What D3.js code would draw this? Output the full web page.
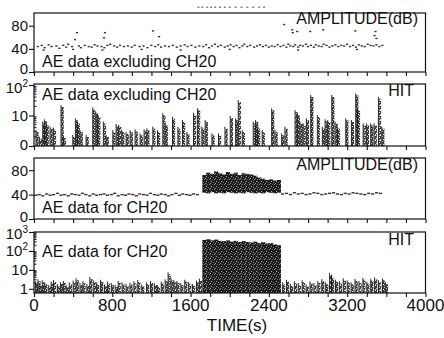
<!DOCTYPE html>
<html><head><meta charset="utf-8">
<script src="https://cdn.jsdelivr.net/npm/d3@7"></script>
<style>
body{margin:0;background:#fff}
svg{display:block}
text{font-family:"Liberation Sans",Arial,sans-serif;fill:#111}
</style>
</head><body>
<svg id="c" width="444" height="338"></svg>
<script>
// ---------------- DATA ----------------
const xTickLabels = [0, 800, 1600, 2400, 3200, 4000];
const ampTicks = [0, 40, 80];
const hitExclTicks = [1, 10, 100];
const hitExclTickLabels = ["0", "10", "10|2"];
const hitCh20Ticks = [1, 10, 100, 1000];
const hitCh20TickLabels = ["1", "10", "10|2", "10|3"];

// Panel 1: amplitude (dB), AE data excluding CH20  [time s, dB]
const ampExclPoints = [
  [40,44],[80,46],[110,42],[150,47],[180,44],[230,45],[260,41],[300,46],[330,43],[350,48],
  [390,44],[460,45],[480,42],[520,46],[560,44],[590,43],[620,47],[650,45],[690,44],[720,42],
  [750,46],[780,48],[820,45],[850,43],[880,46],[920,44],[960,45],[1000,43],[1030,46],[1080,44],
  [1120,45],[1160,42],[1200,46],[1240,44],[1270,47],[1300,43],[1340,45],[1380,44],[1420,46],[1460,43],
  [1500,45],[1540,47],[1570,44],[1610,46],[1650,43],[1690,45],
  [1730,44],[1760,47],[1790,42],[1820,45],[1850,48],[1880,44],[1910,46],[1950,43],[1980,45],[2010,47],
  [2040,44],[2070,46],[2100,42],[2130,45],[2150,48],[2180,44],[2210,46],[2250,43],[2280,45],[2310,47],
  [2340,44],[2370,46],[2400,43],[2430,45],[2460,44],[2490,47],
  [2520,44],[2550,46],[2580,43],[2600,48],[2620,45],[2650,44],[2670,47],[2700,43],[2720,46],[2750,45],
  [2780,48],[2800,44],[2830,46],[2860,43],[2880,47],[2910,45],[2940,44],[2960,48],[2990,46],[3020,43],
  [3050,45],[3080,47],[3110,44],[3140,46],[3170,45],[3200,48],[3230,44],[3260,46],[3290,43],[3320,47],
  [3350,45],[3380,44],[3410,48],[3440,46],[3470,45],[3500,47],[3530,44],[3560,46],
  [100,38],[400,39],[700,38],[1100,39],[1500,38],[2000,39],[2700,38],[3300,39],
  [420,56],[440,68],[716,59],[726,68],[1217,71],[1279,61],[2557,82],[2640,73],[2645,68],
  [2690,70],[2823,70],[2956,73],[3284,71],[3490,70],[3480,63],[3500,58]
];
// faint marks printed above the top frame
const ampExclTopMarks = [[1680,112],[1720,112],[1770,112],[1810,112],[1850,112],[1900,112],[1950,112],
  [2000,112],[2060,112],[2120,112],[2180,112],[2240,112],[2300,112],[2350,112]];

// Panel 2: hits, AE data excluding CH20  [time s, hits]
const hitExclBars = [
  [20,3.3],[55,2.0],[89,6.3],[106,7.5],[123,5.5],[164,4.3],[198,4.0],[276,22],[300,2.1],[396,2.3],
  [423,8.1],[443,6.3],[471,3.3],[532,2.3],[600,18.5],[631,13.4],[651,10.4],[709,6.3],[737,2.3],[805,3.3],
  [839,5.3],[866,4.9],[897,3.3],[941,2.9],[982,3.3],[1033,3.5],[1084,2.6],[1125,3.5],[1153,3.8],[1214,4.3],
  [1262,3.3],[1316,11.8],[1340,5.5],[1415,9.1],[1470,4.3],[1517,7.1],[1562,2.9],[1630,12.3],[1671,17.2],[1715,4.3],
  [1749,7.1],[1818,2.6],[1885,2.6],[1951,4.3],[2005,9.6],[2060,8.1],[2087,32],[2128,3.3],[2240,6.3],[2264,7.1],
  [2285,4.3],[2332,3.3],[2428,17.2],[2462,3.3],[2530,2.6],[2564,4.3],[2667,15],[2690,11.8],[2718,6.3],[2749,5.5],
  [2783,8.1],[2827,47],[2895,10.4],[2946,4.3],[2974,7.5],[3001,7.1],[3042,47],[3076,6.3],[3100,4.3],[3185,8.1],
  [3243,7.1],[3287,53],[3304,17],[3363,5.5],[3396,5.5],[3440,5.5],[3475,5.5],[3519,41],[3553,4.3]
];

// Panel 3: amplitude (dB), AE data for CH20  [time s, dB]
const ampCh20Points = [
  [20,39],[55,40],[90,38],[130,41],[165,39],[200,40],[240,42],[275,39],[310,40],[350,38],
  [385,41],[420,40],[460,39],[495,42],[530,40],[570,38],[605,41],[640,39],[680,40],[715,41],
  [750,39],[790,40],[825,42],[860,38],[900,40],[935,39],[970,41],[1010,40],[1045,38],[1080,41],
  [1120,40],[1155,39],[1190,42],[1230,40],[1265,39],[1300,41],[1340,40],[1375,38],[1410,40],[1450,42],
  [1485,39],[1520,41],[1560,40],[1595,39],[1630,41],[1670,40],
  [2540,41],[2580,42],[2620,40],[2660,43],[2700,41],[2740,42],[2780,40],[2820,41],[2860,43],[2900,42],
  [2940,40],[2980,41],[3020,42],[3060,43],[3100,41],[3140,40],[3180,42],[3220,41],[3260,43],[3300,42],
  [3340,41],[3380,40],[3420,42],[3460,41],[3500,43],[3540,42]
];
// dense burst 1720-2520 s: [bin start s, low dB, high dB]
const ampCh20Burst = [
  [1720,43,72],[1760,42,76],[1800,44,74],[1840,42,78],[1880,43,75],[1920,42,73],[1960,44,77],[2000,43,74],
  [2040,42,76],[2080,43,72],[2120,42,75],[2160,44,74],[2200,43,73],[2240,42,71],[2280,43,68],[2320,42,66],
  [2360,44,64],[2400,43,65],[2440,42,63],[2480,43,64]
];

// Panel 4: hits, AE data for CH20  [time s, hits]
const hitCh20Bars = [
  [15,2.5],[40,3.2],[60,1.8],[85,2.8],[110,2.2],[150,1.6],[175,2.4],[200,2.9],[240,1.7],[270,2.3],
  [300,2.6],[330,1.5],[360,2.2],[400,2.7],[430,3.6],[470,2.0],[500,2.5],[540,1.8],[570,4.2],[610,2.8],
  [640,2.1],[680,3.0],[720,1.7],[750,2.4],[790,2.0],[830,1.6],[860,2.6],[900,2.2],[940,1.8],[980,2.1],
  [1020,2.5],[1060,2.9],[1100,1.7],[1150,2.2],[1190,2.6],[1230,2.0],[1260,1.6],[1300,2.4],[1340,3.2],[1370,7.5],
  [1400,3.5],[1430,2.8],[1460,2.6],[1500,2.0],[1540,3.0],[1580,2.3],[1620,1.8],[1660,2.7],[1690,3.4],
  [2540,2.2],[2580,3.0],[2620,1.8],[2660,2.5],[2700,2.0],[2740,2.8],[2780,1.7],[2820,2.4],[2860,2.0],[2900,2.6],
  [2940,3.2],[2980,2.2],[3020,7.0],[3040,4.5],[3080,3.0],[3120,2.5],[3160,3.6],[3200,2.8],[3240,2.2],[3280,3.3],
  [3320,2.6],[3360,3.8],[3400,2.4],[3440,3.4],[3480,4.0],[3520,2.8],[3560,3.6],[3590,2.2]
];
// dense burst 1720-2520 s: [bin start s, hits]
const hitCh20Burst = [
  [1720,380],[1760,420],[1800,360],[1840,400],[1880,340],[1920,330],[1960,360],[2000,310],[2040,340],[2080,300],
  [2120,330],[2160,300],[2200,280],[2240,310],[2280,260],[2320,290],[2360,250],[2400,260],[2440,220],[2480,200]
];
const burstBin = 40;

// ---------------- LAYOUT ----------------
const svg = d3.select("#c");
const X0 = 34, X1 = 425.5;
const P = [
  {top:13, bottom:72},
  {top:84, bottom:146},
  {top:158, bottom:219},
  {top:232, bottom:293}
];
const x = d3.scaleLinear().domain([0,4000]).range([X0,X1]);
const y1 = d3.scaleLinear().domain([0,102]).range([P[0].bottom, P[0].top]);
const y2 = d3.scaleLog().domain([1,100]).range([P[1].bottom, P[1].top+1]);
const y3 = d3.scaleLinear().domain([0,100]).range([P[2].bottom, P[2].top]);
const y4 = d3.scaleLog().domain([0.6,1000]).range([P[3].bottom, P[3].top]);

// patterns (speckled fills like the printed figure)
const defs = svg.append("defs");
function speckle(id, size, bg, dots){
  const p = defs.append("pattern").attr("id", id).attr("width", size).attr("height", size)
    .attr("patternUnits", "userSpaceOnUse");
  p.append("rect").attr("width", size).attr("height", size).attr("fill", bg);
  dots.forEach(([dx, dy, c]) => p.append("rect").attr("x", dx).attr("y", dy)
    .attr("width", 1).attr("height", 1).attr("fill", c));
}
speckle("stip", 5, "#3c3c3c", [[0,0,"#eee"],[2,1,"#ddd"],[4,2,"#eee"],[1,3,"#ccc"],[3,4,"#eee"],[4,0,"#bbb"],[0,4,"#ccc"]]);
speckle("dense", 5, "#1a1a1a", [[1,1,"#aaa"],[3,2,"#777"],[0,3,"#999"],[4,4,"#888"],[2,4,"#666"]]);

const g = svg.append("g");

// ---------- marks ----------
g.append("g").selectAll("rect").data(ampExclPoints).join("rect")
  .attr("x", d => x(d[0]) - 1.2).attr("y", d => y1(d[1]) - 0.7)
  .attr("width", 2.2).attr("height", 1.4).attr("fill", "#333");
g.append("g").selectAll("rect").data(ampExclTopMarks).join("rect")
  .attr("x", d => x(d[0]) - 1).attr("y", d => y1(d[1]) - 0.6)
  .attr("width", 2).attr("height", 1.2).attr("fill", "#666");

function bars(sel, data, ys, base){
  const gg = sel.append("g");
  gg.selectAll("rect").data(data).join("rect")
    .attr("x", d => x(d[0]) + 0.3).attr("y", d => ys(d[1]) + 2)
    .attr("width", 2.4).attr("height", d => Math.max(0, base - ys(d[1]) - 2))
    .attr("fill", "url(#stip)");
  gg.selectAll("line").data(data).join("line")
    .attr("x1", d => x(d[0])).attr("x2", d => x(d[0]))
    .attr("y1", d => ys(d[1])).attr("y2", base)
    .attr("stroke", "#111").attr("stroke-width", 0.9);
}
bars(g, hitExclBars, y2, P[1].bottom);

g.append("g").selectAll("rect").data(ampCh20Points).join("rect")
  .attr("x", d => x(d[0]) - 1.6).attr("y", d => y3(d[1]) - 0.7)
  .attr("width", 3.2).attr("height", 1.4).attr("fill", "#333");
g.append("g").selectAll("rect").data(ampCh20Burst).join("rect")
  .attr("x", d => x(d[0])).attr("y", d => y3(d[2]))
  .attr("width", d => x(d[0] + burstBin) - x(d[0]) + 0.3)
  .attr("height", d => y3(d[1]) - y3(d[2]))
  .attr("fill", "url(#dense)");

bars(g, hitCh20Bars, y4, P[3].bottom);
g.append("g").selectAll("rect").data(hitCh20Burst).join("rect")
  .attr("x", d => x(d[0])).attr("y", d => y4(d[1]))
  .attr("width", d => x(d[0] + burstBin) - x(d[0]) + 0.3)
  .attr("height", d => P[3].bottom - y4(d[1]))
  .attr("fill", "url(#dense)");

// ---------- frames & axes ----------
const minorX = d3.range(0, 4001, 200);
P.forEach(p => {
  g.append("rect").attr("x", X0).attr("y", p.top).attr("width", X1 - X0).attr("height", p.bottom - p.top)
    .attr("fill", "none").attr("stroke", "#111").attr("stroke-width", 1.2);
  const ag = g.append("g").attr("transform", `translate(0,${p.bottom})`)
    .call(d3.axisBottom(x).tickValues(minorX).tickSize(4).tickFormat(""));
  ag.select(".domain").remove();
  ag.selectAll("line").attr("stroke", "#111").attr("stroke-width", 1.1);
});

// y tick labels; shifts keep neighbouring labels at panel joins apart
function yAxis(scale, ticks, labels, shifts){
  const ag = g.append("g").attr("transform", `translate(${X0},0)`)
    .call(d3.axisLeft(scale).tickValues(ticks).tickSize(5).tickFormat(""));
  ag.select(".domain").remove();
  ag.selectAll("line").attr("stroke", "#111").attr("stroke-width", 1.1);
  ticks.forEach((t, k) => {
    const parts = String(labels[k]).split("|");
    const base = scale(t) + 5.4 + (shifts[k] || 0);
    const tx = g.append("text").attr("y", base).attr("x", X0 - 6)
      .attr("text-anchor", "end").attr("font-size", 15);
    tx.append("tspan").text(parts[0]);
    if (parts.length > 1) tx.append("tspan").attr("font-size", 10).attr("dy", -6).text(parts[1]);
  });
}
yAxis(y1, ampTicks, ampTicks.map(String), [-3.4, 0, 0]);
yAxis(y2, hitExclTicks, hitExclTickLabels, [-1.5, 0, 2.6]);
yAxis(y3, ampTicks, ampTicks.map(String), [-2.5, 0, 0]);
yAxis(y4, hitCh20Ticks, hitCh20TickLabels, [0, 0, 0, 2]);

function minorLog(scale, lo, hi){
  const vals = [];
  for (let dec = lo; dec < hi; dec *= 10) for (let m = 2; m <= 9; m++) vals.push(dec * m);
  g.append("g").selectAll("line").data(vals)
    .join("line").attr("x1", X0).attr("x2", X0 + 2.5)
    .attr("y1", d => scale(d)).attr("y2", d => scale(d)).attr("stroke", "#111").attr("stroke-width", 1);
}
minorLog(y2, 1, 100);
minorLog(y4, 1, 1000);

// x labels
g.append("g").selectAll("text").data(xTickLabels).join("text")
  .attr("x", d => x(d)).attr("y", 311).attr("text-anchor", "middle").attr("font-size", 17)
  .text(d => d);
g.append("text").attr("x", 237).attr("y", 331).attr("text-anchor", "middle").attr("font-size", 17).text("TIME(s)");

// panel texts
const T = (xx, yy, s, anchor) => g.append("text").attr("x", xx).attr("y", yy)
  .attr("text-anchor", anchor || "start").attr("font-size", 16).text(s);
T(42, 67, "AE data excluding CH20");
T(418, 24, "AMPLITUDE(dB)", "end");
T(42, 100, "AE data excluding CH20");
T(414, 96, "HIT", "end");
T(42, 213, "AE data for CH20");
T(418, 170, "AMPLITUDE(dB)", "end");
T(42, 257, "AE data for CH20");
T(414, 245, "HIT", "end");
</script>
</body></html>
